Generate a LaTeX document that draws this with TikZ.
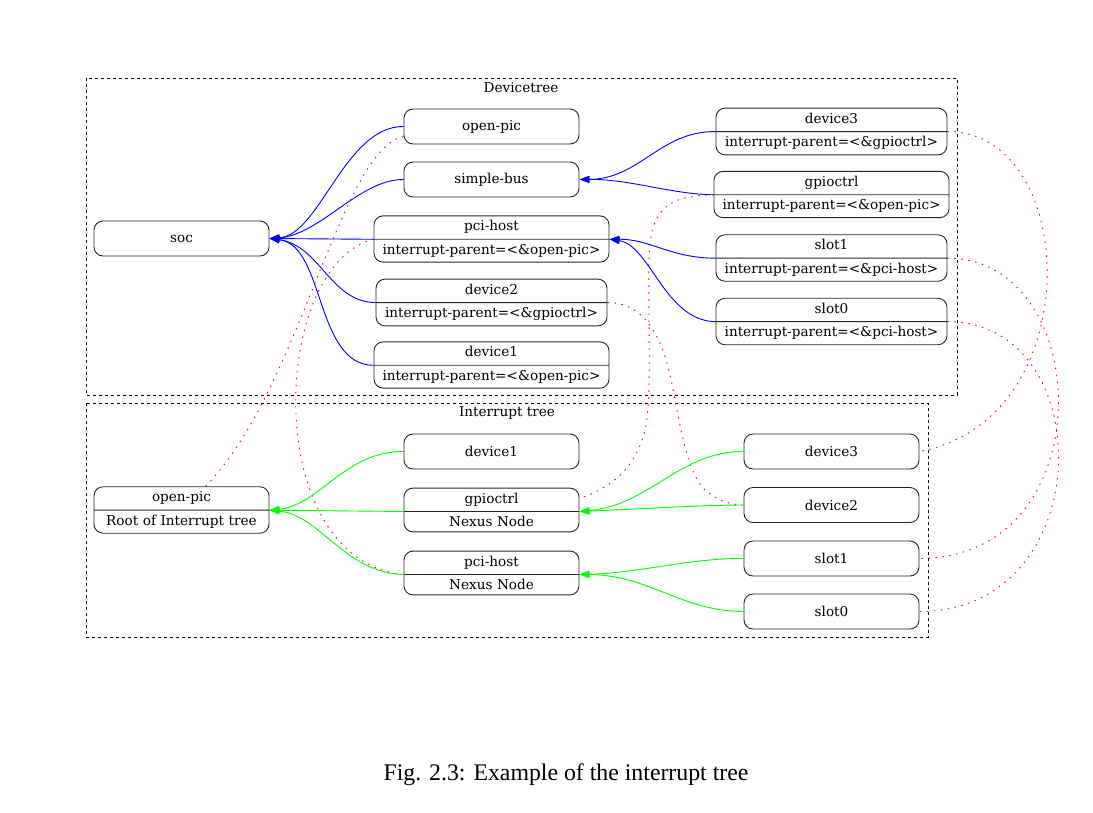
\documentclass[tikz,border=0pt]{standalone}
\usepackage{fontspec}
\setmainfont{DejaVu Serif}
\newfontfamily\capfont{Liberation Serif}
\usetikzlibrary{arrows.meta,shapes.multipart}
\definecolor{gvblue}{RGB}{0,0,255}
\definecolor{gvgreen}{RGB}{0,255,0}
\definecolor{gvred}{RGB}{255,0,0}
\tikzset{
  x=1pt,y=-1pt,
  every node/.style={font=\fontsize{13.6}{15}\selectfont, text=black},
  box/.style={draw=black!85, line width=0.9pt, rounded corners=9pt, minimum height=35pt, inner sep=0pt},
  sbox/.style={draw=black!85, line width=0.9pt, rounded corners=9pt, rectangle split, rectangle split parts=2,
     text width=#1, align=center, inner xsep=0pt, inner ysep=4.5pt, text height=10pt, text depth=3.5pt,
     rectangle split draw splits=true},
  cluster/.style={draw=black, line width=0.9pt, dash pattern=on 3pt off 3pt},
  blueedge/.style={draw=gvblue, line width=0.9pt, -{Triangle[length=10pt,width=7pt]}},
  greenedge/.style={draw=gvgreen, line width=0.9pt, -{Triangle[length=10pt,width=7pt]}},
  rededge/.style={draw=gvred, line width=0.9pt, dash pattern=on 1.5pt off 5.5pt},
}
\begin{document}
\begin{tikzpicture}
\useasboundingbox (0,0) rectangle (1093,812);
% clusters
\draw[cluster] (86,78) rectangle (957,395);
\node (dtlabel) at (521,88) {Devicetree};
\draw[cluster] (86,403) rectangle (928,637);
\node (itlabel) at (507,413) {Interrupt tree};

% Devicetree nodes
\node[box, minimum width=175pt] (soc) at (181.5,238.5) {soc};
\node[box, minimum width=175pt] (dopenpic) at (491.5,126.5) {open-pic};
\node[box, minimum width=175pt] (dsimplebus) at (491.5,179.5) {simple-bus};
\node[sbox=235pt] (dpci) at (491.5,239) {pci-host\nodepart{two}interrupt-parent=<\&open-pic>};
\node[sbox=231pt] (ddevice2) at (491.5,302.5) {device2\nodepart{two}interrupt-parent=<\&gpioctrl>};
\node[sbox=235pt] (ddevice1) at (491.5,365) {device1\nodepart{two}interrupt-parent=<\&open-pic>};
\node[sbox=231pt] (ddevice3) at (831.5,131.5) {device3\nodepart{two}interrupt-parent=<\&gpioctrl>};
\node[sbox=235pt] (dgpio) at (831.5,194.5) {gpioctrl\nodepart{two}interrupt-parent=<\&open-pic>};
\node[sbox=231pt] (dslot1) at (831.5,258) {slot1\nodepart{two}interrupt-parent=<\&pci-host>};
\node[sbox=231pt] (dslot0) at (831.5,321.5) {slot0\nodepart{two}interrupt-parent=<\&pci-host>};

% Interrupt tree nodes
\node[sbox=175pt] (iopenpic) at (181.5,510) {open-pic\nodepart{two}Root of Interrupt tree};
\node[box, minimum width=175pt] (idevice1) at (491.5,451.5) {device1};
\node[sbox=175pt] (igpio) at (491.5,510) {gpioctrl\nodepart{two}Nexus Node};
\node[sbox=175pt] (ipci) at (491.5,573) {pci-host\nodepart{two}Nexus Node};
\node[box, minimum width=175pt] (idevice3) at (831.5,451.5) {device3};
\node[box, minimum width=175pt] (idevice2) at (831.5,505) {device2};
\node[box, minimum width=175pt] (islot1) at (831.5,558.5) {slot1};
\node[box, minimum width=175pt] (islot0) at (831.5,611.5) {slot0};

% red dotted links
\draw[rededge] ([yshift=-10pt]dopenpic.west) .. controls (340,150) and (300,390) .. ([xshift=24pt]iopenpic.north);
\draw[rededge] (dpci.text split west) .. controls (270,265) and (260,560) .. (ipci.text split west);
\draw[rededge] (dgpio.text split west) .. controls (665,196) and (650,210) .. (649,260)
   .. controls (648,330) and (652,400) .. (645,430)
   .. controls (635,470) and (610,488) .. ([yshift=13pt]igpio.text split east);
\draw[rededge] (ddevice2.text split east) .. controls (640,302) and (660,330) .. (670,375)
   .. controls (680,420) and (685,470) .. (705,490)
   .. controls (720,503) and (735,505) .. (idevice2.west);
\draw[rededge] (ddevice3.text split east) .. controls (1080,131) and (1090,420) .. (idevice3.east);
\draw[rededge] (dslot1.text split east) .. controls (1095,258) and (1105,558) .. (islot1.east);
\draw[rededge] (dslot0.text split east) .. controls (1100,321) and (1100,611) .. (islot0.east);

% blue edges
\draw[blueedge] (dopenpic.west) .. controls (345,126) and (320,235) .. (soc.east);
\draw[blueedge] (dsimplebus.west) .. controls (360,179) and (320,235) .. (soc.east);
\draw[blueedge] (dpci.text split west) -- (soc.east);
\draw[blueedge] (ddevice2.text split west) .. controls (330,302) and (320,245) .. (soc.east);
\draw[blueedge] (ddevice1.text split west) .. controls (315,365) and (325,245) .. (soc.east);
\draw[blueedge] (ddevice3.text split west) .. controls (660,131) and (640,179) .. (dsimplebus.east);
\draw[blueedge] (dgpio.text split west) .. controls (670,194) and (630,179) .. (dsimplebus.east);
\draw[blueedge] (dslot1.text split west) .. controls (670,258) and (650,239) .. (dpci.text split east);
\draw[blueedge] (dslot0.text split west) .. controls (665,321) and (650,245) .. (dpci.text split east);

% green edges
\draw[greenedge] (idevice1.west) .. controls (345,451) and (320,505) .. (iopenpic.text split east);
\draw[greenedge] (igpio.text split west) -- (iopenpic.text split east);
\draw[greenedge] (ipci.text split west) .. controls (345,573) and (320,515) .. (iopenpic.text split east);
\draw[greenedge] (idevice3.west) .. controls (680,451) and (650,505) .. (igpio.text split east);
\draw[greenedge] (idevice2.west) .. controls (700,505) and (620,510) .. (igpio.text split east);
\draw[greenedge] (islot1.west) .. controls (690,558) and (640,573) .. (ipci.text split east);
\draw[greenedge] (islot0.west) .. controls (680,611) and (650,575) .. (ipci.text split east);

% caption
\node[font=\capfont\fontsize{23.8}{28}\selectfont] (caption) at (566,775) {Fig. 2.3: Example of the interrupt tree};
\end{tikzpicture}
\end{document}
